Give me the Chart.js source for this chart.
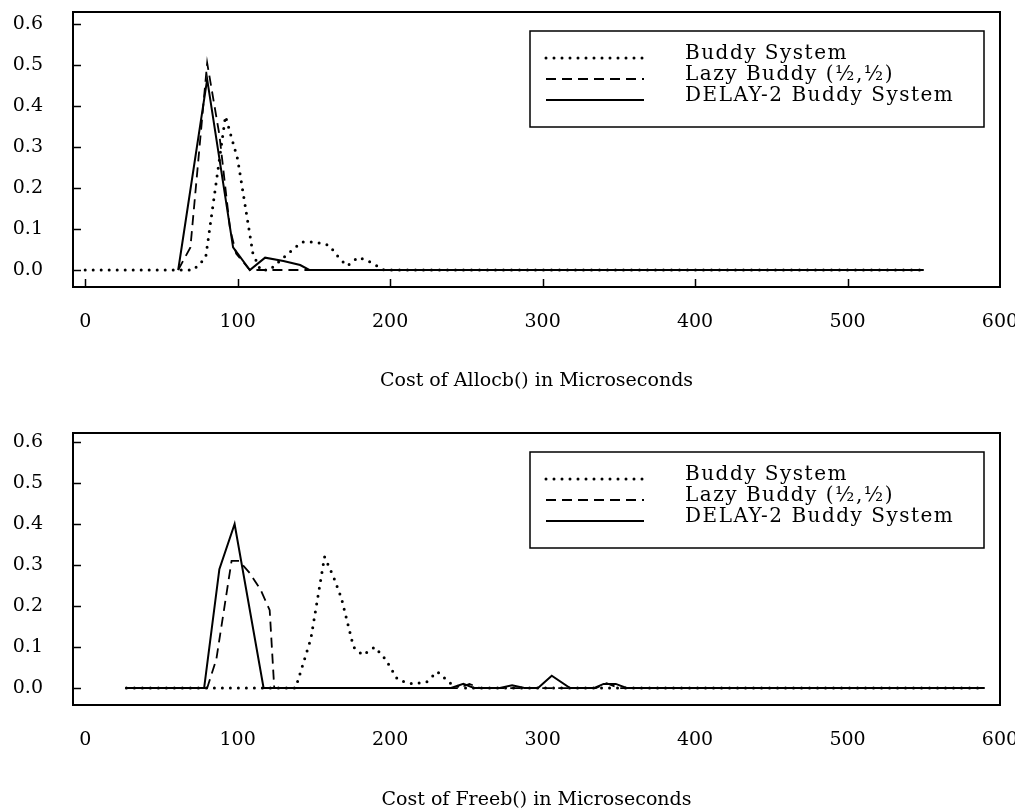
<!DOCTYPE html>
<html>
<head>
<meta charset="utf-8">
<script src="https://cdn.jsdelivr.net/npm/chart.js@4.4.1/dist/chart.umd.min.js"></script>
<style>
    html, body { margin: 0; padding: 0; background: #fff; }
    .panel { position: absolute; left: 0; width: 1015px; }
    #alloc-panel { top: 0; height: 421px; }
    #free-panel { top: 421px; height: 391px; }
</style>
</head>
<body>
<div class="panel" id="alloc-panel"><canvas id="allocChart"></canvas></div>
<div class="panel" id="free-panel"><canvas id="freeChart"></canvas></div>
<script>
// series names (legend)
const seriesLabels = ["Buddy System", "Lazy Buddy (½,½)", "DELAY-2 Buddy System"];

// axes
const xTicks = [0, 100, 200, 300, 400, 500, 600];
const yTicks = [0, 0.1, 0.2, 0.3, 0.4, 0.5, 0.6];

// Allocb() cost distribution (microseconds -> fraction)
const allocBuddyX = [0, 71, 79, 92, 100, 110, 115, 121, 133, 142, 151, 160, 167, 172, 179, 185, 190, 196, 550];
const allocBuddyY = [0, 0, 0.03, 0.375, 0.27, 0.04, 0, 0, 0.04, 0.068, 0.068, 0.06, 0.027, 0.01, 0.031, 0.023, 0.013, 0, 0];
const allocLazyX = [61, 69, 80, 88, 95, 99, 108, 550];
const allocLazyY = [0, 0.055, 0.505, 0.33, 0.1, 0.04, 0, 0];
const allocDelayX = [61, 80, 97, 108, 118, 130, 141, 147, 550];
const allocDelayY = [0, 0.465, 0.055, 0, 0.03, 0.022, 0.012, 0, 0];

// Freeb() cost distribution
const freeBuddyX = [27, 138, 148, 157, 163, 168, 176, 182, 190, 197, 205, 215, 224, 231, 240, 248, 590];
const freeBuddyY = [0, 0, 0.12, 0.32, 0.27, 0.22, 0.1, 0.08, 0.1, 0.07, 0.02, 0.01, 0.015, 0.04, 0.01, 0, 0];
const freeLazyX = [27, 80, 86, 96, 101, 108, 115, 121, 124, 245, 252, 259, 335, 342, 350, 590];
const freeLazyY = [0, 0, 0.07, 0.31, 0.31, 0.28, 0.24, 0.19, 0, 0, 0.01, 0, 0, 0.012, 0, 0];
const freeDelayX = [27, 78, 88, 98, 117, 240, 248, 255, 272, 280, 288, 297, 306, 318, 334, 340, 348, 355, 590];
const freeDelayY = [0, 0, 0.29, 0.40, 0, 0, 0.01, 0, 0, 0.007, 0, 0, 0.03, 0, 0, 0.01, 0.01, 0, 0];

const FONT_FAMILY = '"DejaVu Serif", "Liberation Serif", serif';
const FONT = { family: FONT_FAMILY, size: 19 };

const lineStyles = [
    { borderWidth: 3, borderDash: [0, 8], borderCapStyle: 'round' },   // dotted
    { borderWidth: 1.8, borderDash: [10, 6], borderCapStyle: 'butt' }, // dashed
    { borderWidth: 2, borderDash: [], borderCapStyle: 'butt' }         // solid
];

function toPoints(xs, ys) {
    return xs.map((x, i) => ({ x: x, y: ys[i] }));
}

// box round the plot + short inward tick marks
const framePlugin = {
    id: 'frame',
    afterDatasetsDraw(chart, args, opts) {
        const { ctx, chartArea: ca, scales } = chart;
        ctx.save();
        ctx.strokeStyle = '#000';
        ctx.lineWidth = 2;
        ctx.strokeRect(ca.left, ca.top, ca.right - ca.left, ca.bottom - ca.top);

        ctx.beginPath();
        scales.y.ticks.forEach(t => {
            const py = Math.round(scales.y.getPixelForValue(t.value)) + 0.5;
            ctx.moveTo(ca.left, py);
            ctx.lineTo(ca.left + 8, py);
        });
        if (opts.xMarks) {
            scales.x.ticks.forEach(t => {
                const px = Math.round(scales.x.getPixelForValue(t.value)) + 0.5;
                if (px >= ca.right - 2) return;
                ctx.moveTo(px, ca.bottom);
                ctx.lineTo(px, ca.bottom - 8);
            });
        }
        ctx.lineWidth = 1.5;
        ctx.stroke();
        ctx.restore();
    }
};

// legend in a framed box inside the plot
const boxLegendPlugin = {
    id: 'boxLegend',
    afterDraw(chart, args, o) {
        const { ctx, chartArea: ca } = chart;
        const top = ca.top + o.top;
        ctx.save();
        ctx.strokeStyle = '#000';
        ctx.lineWidth = 1.5;
        ctx.strokeRect(o.left, top, o.width, o.height);

        ctx.font = `${o.fontSize}px ${FONT_FAMILY}`;
        ctx.letterSpacing = o.spacing;
        ctx.fillStyle = '#000';
        ctx.textBaseline = 'alphabetic';
        ctx.textAlign = 'left';
        chart.data.datasets.forEach((ds, i) => {
            const y = top + o.rows[i];
            ctx.beginPath();
            ctx.setLineDash(ds.borderDash || []);
            ctx.lineCap = ds.borderCapStyle || 'butt';
            ctx.lineWidth = ds.borderWidth;
            ctx.moveTo(o.sampleFrom, y);
            ctx.lineTo(o.sampleTo, y);
            ctx.stroke();
            ctx.setLineDash([]);
            ctx.fillText(ds.label, o.textX, y + 1);
        });
        ctx.restore();
    }
};

function makeChart(canvasId, series, cfg) {
    const ctx = document.getElementById(canvasId).getContext('2d');

    return new Chart(ctx, {
        type: 'line',
        data: {
            datasets: series.map((s, i) => Object.assign({
                label: seriesLabels[i],
                data: toPoints(s[0], s[1]),
                borderColor: '#000',
                backgroundColor: 'transparent',
                fill: false,
                tension: 0,
                pointRadius: 0
            }, lineStyles[i]))
        },
        options: {
            responsive: true,
            maintainAspectRatio: false,
            animation: false,
            events: [],
            layout: {
                padding: { top: 12, right: 15, left: 0, bottom: cfg.padBottom }
            },
            plugins: {
                legend: { display: false },
                tooltip: { enabled: false },
                frame: { xMarks: cfg.xMarks },
                boxLegend: {
                    left: 530, top: 19, width: 454, height: 96,
                    rows: [27, 48, 69],
                    sampleFrom: 546, sampleTo: 644, textX: 685,
                    fontSize: 20, spacing: '1.5px'
                }
            },
            scales: {
                x: {
                    type: 'linear',
                    min: -8,
                    max: 600,
                    grid: { display: false, drawTicks: false },
                    border: { display: false },
                    ticks: { padding: 24, color: '#000', font: FONT, autoSkip: false, maxRotation: 0 },
                    afterBuildTicks: a => { a.ticks = xTicks.map(v => ({ value: v })); },
                    afterFit: a => { a.height = cfg.xHeight; a.paddingLeft = 0; a.paddingRight = 0; },
                    title: { display: true, text: cfg.title, color: '#000', font: FONT, padding: 0 }
                },
                y: {
                    min: cfg.yMin,
                    max: cfg.yMax,
                    grid: { display: false, drawTicks: false },
                    border: { display: false },
                    ticks: { padding: 30, color: '#000', font: FONT, callback: v => v.toFixed(1) },
                    afterBuildTicks: a => { a.ticks = yTicks.map(v => ({ value: v })); },
                    afterFit: a => { a.width = 73; a.paddingTop = 0; a.paddingBottom = 0; }
                }
            }
        },
        plugins: [framePlugin, boxLegendPlugin]
    });
}

makeChart('allocChart',
    [[allocBuddyX, allocBuddyY], [allocLazyX, allocLazyY], [allocDelayX, allocDelayY]],
    { title: 'Cost of Allocb() in Microseconds', yMin: -0.0415, yMax: 0.629, xHeight: 105, padBottom: 29, xMarks: true });

makeChart('freeChart',
    [[freeBuddyX, freeBuddyY], [freeLazyX, freeLazyY], [freeDelayX, freeDelayY]],
    { title: 'Cost of Freeb() in Microseconds', yMin: -0.0414, yMax: 0.622, xHeight: 106, padBottom: 1, xMarks: false });
</script>
</body>
</html>
